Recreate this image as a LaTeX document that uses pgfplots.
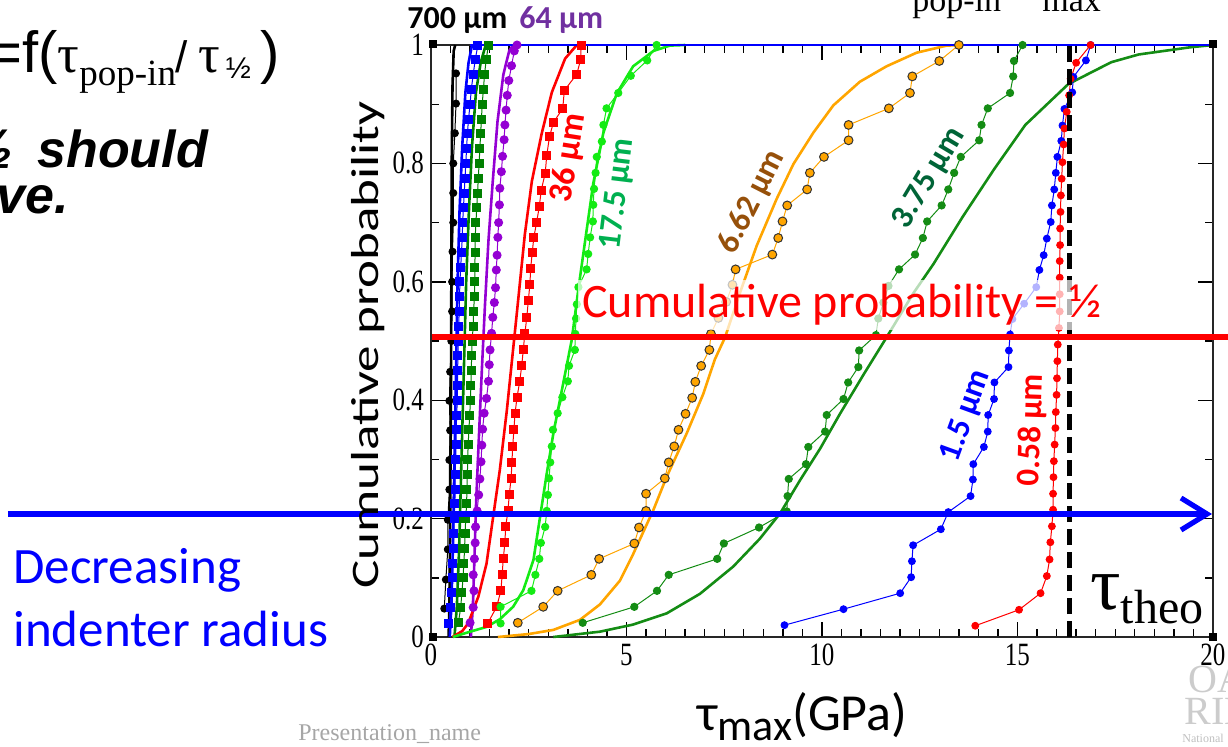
\documentclass[border=0pt]{standalone}
\usepackage{pgfplots}
\pgfplotsset{compat=1.18}
\usepackage{fontspec}
\setmainfont{Liberation Serif}
\newfontfamily\calfont{Carlito}
\newfontfamily\arialfont{Liberation Sans}
\usetikzlibrary{arrows.meta}
\definecolor{cPurple}{RGB}{148,0,211}
\definecolor{cPurpleTxt}{RGB}{112,48,160}
\definecolor{cLime}{RGB}{20,235,20}
\definecolor{cGreen}{RGB}{0,128,0}
\definecolor{cDkGreen}{RGB}{20,140,20}
\definecolor{cOrange}{RGB}{255,165,0}
\definecolor{cTeal}{RGB}{0,176,80}
\definecolor{cBrown}{RGB}{150,80,10}
\definecolor{cDkTeal}{RGB}{0,100,55}
\newcommand\vs[1]{\scalebox{1}[1.3]{#1}}
\begin{document}
\begin{tikzpicture}
\begin{axis}[at={(0,0)}, anchor=south west, scale only axis,
  width=391pt, height=296pt,
  xmin=0, xmax=20, ymin=0, ymax=1,
  xtick={0,5,10,15,20}, xticklabels={\vs{0},\vs{5},\vs{10},\vs{15},\vs{20}},
  ytick={0,0.2,0.4,0.6,0.8,1}, yticklabels={\vs{0},\vs{0.2},\vs{0.4},\vs{0.6},\vs{0.8},\vs{1}},
  minor x tick num=9, minor y tick num=1,
  tick align=inside, major tick length=7.5pt, minor tick length=4pt,
  tick style={black, line width=0.7pt},
  axis line style={line width=0.9pt, black!85},
  ticklabel style={font=\fontsize{12.5}{13}\selectfont},
  clip=false]
% ---- 700 um (black)
\addplot[black, line width=1.3pt] coordinates {(0.45,0)(0.47,0.05)(0.49,0.2)(0.51,0.4)(0.52,0.6)(0.53,0.8)(0.55,0.93)(0.58,0.99)(0.62,1.0)};
\addplot[black, line width=0.5pt, mark=*, mark size=1.75pt] coordinates {
(0.34,0.048)(0.38,0.097)(0.43,0.148)(0.43,0.198)(0.47,0.249)(0.47,0.299)(0.49,0.349)(0.47,0.399)(0.49,0.448)(0.52,0.5)
(0.54,0.55)(0.54,0.6)(0.55,0.651)(0.57,0.7)(0.57,0.75)(0.57,0.8)(0.61,0.851)(0.64,0.901)(0.64,0.952)};
% ---- blue squares
\addplot[blue, line width=1.3pt] coordinates {(0.48,0)(0.52,0.05)(0.56,0.15)(0.6,0.3)(0.64,0.45)(0.68,0.6)(0.73,0.72)(0.8,0.83)(0.88,0.92)(0.96,0.97)(1.05,1.0)};
\addplot[blue, line width=0.5pt, mark=square*, mark size=2pt] coordinates {
(0.46,0.023)(0.49,0.05)(0.52,0.075)(0.54,0.1)(0.56,0.125)(0.57,0.15)(0.58,0.175)(0.59,0.2)(0.61,0.225)(0.62,0.25)
(0.62,0.275)(0.63,0.3)(0.64,0.325)(0.64,0.35)(0.66,0.375)(0.67,0.4)(0.68,0.425)(0.68,0.45)(0.69,0.475)(0.70,0.5)
(0.71,0.525)(0.72,0.55)(0.73,0.575)(0.74,0.6)(0.76,0.625)(0.78,0.65)(0.80,0.675)(0.81,0.7)(0.83,0.725)(0.85,0.75)
(0.87,0.775)(0.89,0.8)(0.91,0.825)(0.93,0.85)(0.96,0.875)(1.0,0.9)(1.03,0.925)(1.08,0.95)(1.13,0.975)(1.2,1.0)};
% ---- green squares
\addplot[cGreen, line width=1.3pt] coordinates {(0.6,0)(0.66,0.05)(0.72,0.15)(0.78,0.3)(0.84,0.45)(0.9,0.6)(0.97,0.72)(1.05,0.83)(1.15,0.92)(1.27,0.97)(1.4,1.0)};
\addplot[cGreen, line width=0.5pt, mark=square*, mark size=2pt] coordinates {
(0.70,0.024)(0.76,0.05)(0.79,0.075)(0.82,0.1)(0.84,0.125)(0.86,0.15)(0.87,0.175)(0.89,0.2)(0.91,0.225)(0.92,0.25)
(0.93,0.275)(0.94,0.3)(0.95,0.325)(0.97,0.35)(0.99,0.375)(1.01,0.4)(1.02,0.425)(1.03,0.45)(1.04,0.475)(1.05,0.5)
(1.08,0.525)(1.09,0.55)(1.11,0.575)(1.12,0.6)(1.12,0.625)(1.13,0.65)(1.13,0.675)(1.15,0.7)(1.17,0.725)(1.19,0.75)
(1.21,0.775)(1.23,0.8)(1.25,0.825)(1.27,0.85)(1.29,0.875)(1.31,0.9)(1.34,0.925)(1.37,0.95)(1.41,0.975)(1.47,1.0)};
% ---- 64 um purple
\addplot[cPurple, line width=1.3pt] coordinates {(1.02,0)(1.07,0.05)(1.11,0.13)(1.15,0.22)(1.22,0.33)(1.3,0.45)(1.38,0.56)(1.47,0.67)(1.58,0.77)(1.7,0.87)(1.85,0.95)(2.0,0.99)(2.1,1.0)};
\addplot[cPurple, line width=0.5pt, mark=*, mark size=2pt] coordinates {
(1.0,0.024)(1.08,0.05)(1.10,0.078)(1.08,0.105)(1.11,0.132)(1.13,0.159)(1.14,0.186)(1.18,0.213)(1.22,0.24)(1.25,0.267)
(1.28,0.296)(1.30,0.324)(1.32,0.351)(1.36,0.378)(1.42,0.403)(1.47,0.432)(1.49,0.46)(1.51,0.485)(1.55,0.513)(1.58,0.54)
(1.62,0.565)(1.65,0.59)(1.67,0.62)(1.69,0.645)(1.71,0.675)(1.73,0.70)(1.75,0.73)(1.76,0.758)(1.80,0.786)(1.83,0.812)
(1.87,0.84)(1.89,0.865)(1.92,0.89)(1.95,0.915)(1.99,0.94)(2.06,0.965)(2.13,0.99)(2.2,1.0)};
% ---- 36 um red squares
\addplot[red, line width=1.3pt] coordinates {(0.55,0)(0.8,0.01)(0.95,0.023)(1.21,0.068)(1.42,0.124)(1.59,0.203)(1.76,0.282)(1.94,0.383)(2.08,0.473)(2.2,0.55)(2.4,0.68)(2.58,0.77)(2.83,0.85)(3.09,0.92)(3.43,0.977)(3.73,1.0)};
\addplot[red, line width=0.5pt, mark=square*, mark size=2pt] coordinates {
(1.45,0.023)(1.68,0.051)(1.79,0.079)(1.82,0.106)(1.85,0.133)(1.89,0.159)(1.91,0.187)(1.97,0.213)(2.00,0.240)(2.05,0.268)
(2.07,0.295)(2.09,0.322)(2.12,0.350)(2.15,0.378)(2.20,0.405)(2.27,0.432)(2.32,0.458)(2.36,0.485)(2.40,0.512)(2.45,0.540)
(2.49,0.569)(2.53,0.596)(2.55,0.623)(2.59,0.650)(2.63,0.675)(2.70,0.700)(2.77,0.727)(2.82,0.755)(2.92,0.783)(2.96,0.813)
(3.03,0.845)(3.13,0.869)(3.37,0.893)(3.41,0.923)(3.73,0.951)(3.83,0.976)(3.84,1.0)};
% ---- 17.5 um lime
\addplot[cLime, line width=1.3pt] coordinates {(0.56,0)(1.0,0.009)(1.42,0.017)(1.76,0.03)(2.1,0.051)(2.36,0.079)(2.62,0.13)(2.79,0.203)(2.96,0.276)(3.13,0.344)(3.38,0.428)(3.6,0.502)(3.77,0.588)(3.98,0.687)(4.15,0.766)(4.41,0.852)(4.75,0.918)(5.17,0.964)(5.69,0.99)(6.11,0.999)(6.5,1.0)};
\addplot[cLime, line width=0.5pt, mark=*, mark size=1.8pt] coordinates {
(1.78,0.023)(1.78,0.051)(2.57,0.078)(2.67,0.105)(2.77,0.132)(2.81,0.159)(2.92,0.186)(2.96,0.213)(2.99,0.240)(3.02,0.268)
(3.05,0.295)(3.09,0.322)(3.12,0.350)(3.24,0.378)(3.36,0.405)(3.50,0.432)(3.53,0.458)(3.68,0.485)(3.69,0.512)(3.71,0.538)
(3.73,0.562)(3.77,0.591)(3.98,0.621)(4.02,0.647)(4.07,0.675)(4.14,0.702)(4.15,0.730)(4.17,0.757)(4.21,0.784)(4.24,0.811)
(4.37,0.837)(4.41,0.865)(4.49,0.893)(4.79,0.919)(5.11,0.948)(5.53,0.974)(5.77,1.0)};
% ---- 6.62 um orange
\addplot[cOrange, line width=1.3pt] coordinates {(1.71,0)(2.5,0.005)(3.13,0.012)(3.81,0.029)(4.32,0.055)(4.83,0.095)(5.17,0.14)(5.69,0.215)(6.03,0.271)(6.54,0.344)(6.96,0.41)(7.26,0.469)(7.52,0.506)(7.9,0.581)(8.33,0.661)(8.84,0.74)(9.27,0.799)(9.78,0.852)(10.29,0.898)(10.97,0.938)(11.65,0.964)(12.42,0.987)(13.19,0.999)(13.6,1.0)};
\addplot[cOrange, line width=0.5pt, mark=*, mark size=2.2pt, mark options={fill=cOrange, draw=black!80, line width=0.5pt}] coordinates {
(2.22,0.024)(2.87,0.051)(3.24,0.078)(4.10,0.105)(4.30,0.132)(5.20,0.158)(5.32,0.185)(5.50,0.213)(5.50,0.242)(5.98,0.268)
(6.08,0.295)(6.22,0.322)(6.33,0.350)(6.51,0.377)(6.68,0.404)(6.76,0.431)(6.91,0.458)(7.12,0.485)(7.16,0.512)(7.35,0.539)
(7.55,0.566)(7.71,0.595)(7.79,0.621)(8.73,0.646)(8.88,0.674)(8.99,0.702)(9.11,0.729)(9.62,0.756)(9.69,0.784)(10.05,0.811)
(10.68,0.839)(10.68,0.865)(11.71,0.893)(12.25,0.919)(12.31,0.947)(13.0,0.973)(13.5,1.0)};
% ---- 3.75 um dark green
\addplot[cDkGreen, line width=1.3pt] coordinates {(3.13,0)(4.32,0.009)(5.17,0.021)(6.03,0.04)(6.88,0.073)(7.73,0.119)(8.41,0.166)(8.93,0.209)(9.44,0.265)(9.95,0.318)(10.46,0.377)(11.06,0.443)(11.65,0.506)(12.34,0.581)(12.85,0.63)(13.6,0.71)(14.4,0.79)(15.2,0.865)(16.3,0.934)(17.4,0.971)(18.1,0.984)(19.4,0.996)(20,1.0)};
\addplot[cDkGreen, line width=0.5pt, mark=*, mark size=1.8pt] coordinates {
(3.88,0.024)(5.20,0.051)(5.78,0.078)(6.08,0.105)(7.32,0.132)(7.49,0.158)(8.39,0.185)(9.10,0.212)(9.12,0.238)(9.15,0.267)
(9.59,0.292)(9.65,0.321)(10.08,0.347)(10.12,0.375)(10.55,0.402)(10.67,0.430)(10.93,0.456)(10.95,0.484)(11.38,0.510)(11.44,0.538)
(11.57,0.565)(11.70,0.593)(11.97,0.621)(12.38,0.646)(12.58,0.674)(12.69,0.702)(13.06,0.729)(13.23,0.756)(13.38,0.784)(13.55,0.811)
(14.02,0.839)(14.08,0.865)(14.24,0.893)(14.81,0.919)(14.89,0.947)(14.91,0.973)(15.13,1.0)};
% ---- 1.5 um blue dots
\addplot[blue, line width=0.5pt, mark=*, mark size=1.7pt] coordinates {
(9.04,0.020)(10.55,0.047)(12.0,0.074)(12.28,0.101)(12.30,0.128)(12.33,0.155)(13.04,0.182)(13.23,0.211)(13.80,0.238)(13.86,0.266)
(13.87,0.292)(14.14,0.321)(14.24,0.347)(14.25,0.375)(14.40,0.402)(14.41,0.430)(14.77,0.456)(14.78,0.484)(14.81,0.511)(14.87,0.537)
(15.17,0.563)(15.48,0.591)(15.56,0.620)(15.67,0.645)(15.75,0.673)(15.85,0.701)(15.88,0.729)(15.94,0.756)(15.98,0.784)(16.02,0.811)
(16.12,0.838)(16.15,0.864)(16.2,0.892)(16.4,0.920)(16.43,0.946)(16.75,0.974)(16.87,1.0)};
% ---- 0.58 um red dots
\addplot[red, line width=0.5pt, mark=*, mark size=1.7pt] coordinates {
(13.92,0.019)(15.04,0.046)(15.59,0.074)(15.75,0.103)(15.82,0.131)(15.84,0.160)(15.88,0.187)(15.91,0.215)(15.91,0.242)(15.92,0.270)
(15.93,0.297)(15.95,0.325)(15.97,0.353)(15.98,0.380)(16.0,0.409)(16.01,0.437)(16.02,0.466)(16.03,0.494)(16.06,0.522)(16.08,0.550)
(16.08,0.579)(16.08,0.607)(16.08,0.635)(16.09,0.662)(16.09,0.690)(16.10,0.718)(16.11,0.746)(16.13,0.774)(16.15,0.802)(16.18,0.832)
(16.2,0.859)(16.26,0.887)(16.32,0.915)(16.36,0.943)(16.5,0.970)(16.87,1.0)};
% blue fit reaching 1 along top
\addplot[blue, line width=0.9pt] coordinates {(1.0,1.0)(20,1.0)};
\end{axis}
\begin{scope}[x=0.5pt, y=-0.5pt, shift={(-215.5pt,318.5pt)}]
% corner squares
\foreach \cx/\cy in {433/44, 1213/44, 433/637, 1213/637}{\fill[black] (\cx-4,\cy-4) rectangle (\cx+4,\cy+4);}
% dashed theoretical line
\draw[black, line width=2.5pt, dash pattern=on 8pt off 3.5pt] (1069,637) -- (1069,45);
% red horizontal line
\draw[red, line width=2.6pt] (432,337) -- (1240,337);
% blue arrow
\draw[blue, line width=2.6pt, -{Straight Barb[length=13pt, width=16pt]}] (8,514) -- (1212,514);
% red text with translucent box
\node[anchor=west, text=red, fill=white, fill opacity=0.7, text opacity=1, inner sep=2pt, font=\calfont\fontsize{24}{24}\selectfont] at (578,305) {Cumulative probability = ½};
% series labels
\node[font=\calfont\bfseries\fontsize{16}{16}\selectfont, text=black, anchor=base west, inner sep=0] at (407,28) {700 µm};
\node[font=\calfont\bfseries\fontsize{16}{16}\selectfont, text=cPurpleTxt, anchor=base west, inner sep=0] at (519,28) {64 µm};
\node[font=\calfont\bfseries\fontsize{17}{17}\selectfont, text=red, rotate=81] at (569,158) {36 µm};
\node[font=\calfont\bfseries\fontsize{16.5}{16.5}\selectfont, text=cTeal, rotate=83] at (618,194) {17.5 µm};
\node[font=\calfont\bfseries\fontsize{16.5}{16.5}\selectfont, text=cBrown, rotate=63] at (752,202) {6.62 µm};
\node[font=\calfont\bfseries\fontsize{16.5}{16.5}\selectfont, text=cDkTeal, rotate=59] at (929,178) {3.75 µm};
\node[font=\calfont\bfseries\fontsize{16.5}{16.5}\selectfont, text=blue, rotate=70] at (966,416) {1.5 µm};
\node[font=\calfont\bfseries\fontsize{16.5}{16.5}\selectfont, text=red, rotate=88] at (1032,430) {0.58 µm};
% tau theo
\node[anchor=base west, inner sep=0] at (1090,609) {\fontsize{38}{38}\selectfont τ\raisebox{-7pt}{\fontsize{24}{24}\selectfont theo}};
% axis labels
\node[rotate=90, inner sep=0] at (368,345) {\scalebox{1.36}[1]{\calfont\fontsize{19.5}{20}\selectfont Cumulative probability}};
\node[anchor=base west, inner sep=0] at (697,730) {\calfont\fontsize{26}{26}\selectfont τ\raisebox{-5pt}{\fontsize{22}{22}\selectfont max}(GPa)};
% slide fragments
\node[anchor=base west, inner sep=0] at (-12,72) {\arialfont\fontsize{29}{29}\selectfont =f(\rmfamily\fontsize{27}{27}\selectfont τ\raisebox{-6.5pt}{\fontsize{18.5}{18.5}\selectfont pop-in}{\arialfont\fontsize{22}{22}\selectfont /}\hspace{5pt}τ\hspace{3pt}\raisebox{-3pt}{\arialfont\fontsize{15}{15}\selectfont ½}\hspace{5pt}{\arialfont\fontsize{29}{29}\selectfont )}};
\node[anchor=base east, inner sep=0] at (14,168) {\arialfont\bfseries\itshape\fontsize{28}{28}\selectfont ½};
\node[anchor=base west, inner sep=0] at (37,167) {\arialfont\bfseries\itshape\fontsize{26}{26}\selectfont should};
\node[anchor=base west, inner sep=0] at (-4,213) {\arialfont\bfseries\itshape\fontsize{26}{26}\selectfont ve.};
\node[anchor=base west, inner sep=0] at (912,12) {\fontsize{17}{17}\selectfont pop-in};
\node[anchor=base west, inner sep=0] at (1042,12) {\fontsize{17}{17}\selectfont max};
\node[anchor=base west, inner sep=0, text=blue] at (13,583) {\calfont\fontsize{25.5}{25.5}\selectfont Decreasing};
\node[anchor=base west, inner sep=0, text=blue] at (13,646) {\calfont\fontsize{25.5}{25.5}\selectfont indenter radius};
\node[anchor=base west, inner sep=0, text=black!35] at (298,740) {\fontsize{12}{12}\selectfont Presentation\_name};
\node[anchor=base west, inner sep=0, text=black!20] at (1188,692) {\fontsize{20}{20}\selectfont OAK};
\node[anchor=base west, inner sep=0, text=black!20] at (1184,724) {\fontsize{20}{20}\selectfont RIDGE};
\node[anchor=base west, inner sep=0, text=black!25] at (1182,742) {\fontsize{6}{6}\selectfont National};
\end{scope}
\pgfresetboundingbox
\path[use as bounding box] (-215.5pt,-54.5pt) rectangle (398.5pt,318.5pt);
\end{tikzpicture}
\end{document}
